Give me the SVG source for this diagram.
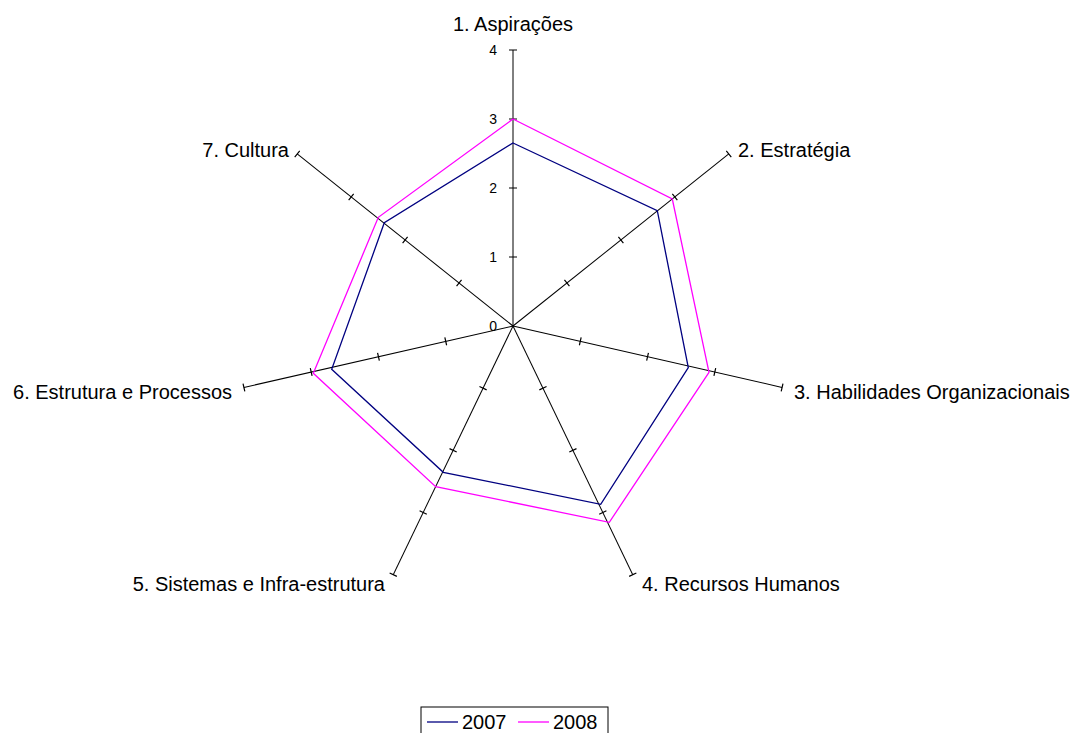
<svg xmlns="http://www.w3.org/2000/svg" width="1073" height="733" viewBox="0 0 1073 733">
  <style>
    .axis { stroke: #000; stroke-width: 1; fill: none; }
    .tick { stroke: #000; stroke-width: 1.2; }
    .lbl { font-family: "Liberation Sans", Arial, sans-serif; font-size: 20px; fill: #000; }
    .num { font-family: "Liberation Sans", Arial, sans-serif; font-size: 14px; fill: #000; text-anchor: end; }
    .s2007 { stroke: #000080; stroke-width: 1.3; fill: none; }
    .s2008 { stroke: #ff00ff; stroke-width: 1.3; fill: none; }
  </style>
  <rect width="1073" height="733" fill="#fff"/>

  <!-- spokes with unit ticks (centre 513,326; 69 px per unit) -->
  <g id="connectors">
    <g id="spoke1">
      <line class="axis" x1="513" y1="326" x2="513" y2="50"/>
      <path class="tick" d="M509 257H517M509 188H517M509 119H517M509 50H517"/>
    </g>
    <g id="spoke2" transform="rotate(51.4286 513 326)">
      <line class="axis" x1="513" y1="326" x2="513" y2="50"/>
      <path class="tick" d="M509 257H517M509 188H517M509 119H517M509 50H517"/>
    </g>
    <g id="spoke3" transform="rotate(102.857 513 326)">
      <line class="axis" x1="513" y1="326" x2="513" y2="50"/>
      <path class="tick" d="M509 257H517M509 188H517M509 119H517M509 50H517"/>
    </g>
    <g id="spoke4" transform="rotate(154.286 513 326)">
      <line class="axis" x1="513" y1="326" x2="513" y2="50"/>
      <path class="tick" d="M509 257H517M509 188H517M509 119H517M509 50H517"/>
    </g>
    <g id="spoke5" transform="rotate(205.714 513 326)">
      <line class="axis" x1="513" y1="326" x2="513" y2="50"/>
      <path class="tick" d="M509 257H517M509 188H517M509 119H517M509 50H517"/>
    </g>
    <g id="spoke6" transform="rotate(257.143 513 326)">
      <line class="axis" x1="513" y1="326" x2="513" y2="50"/>
      <path class="tick" d="M509 257H517M509 188H517M509 119H517M509 50H517"/>
    </g>
    <g id="spoke7" transform="rotate(308.571 513 326)">
      <line class="axis" x1="513" y1="326" x2="513" y2="50"/>
      <path class="tick" d="M509 257H517M509 188H517M509 119H517M509 50H517"/>
    </g>
  </g>

  <!-- scale values -->
  <g id="scale">
    <text class="num" x="497" y="331">0</text>
    <text class="num" x="497" y="262">1</text>
    <text class="num" x="497" y="193">2</text>
    <text class="num" x="497" y="124">3</text>
    <text class="num" x="497" y="55">4</text>
  </g>

  <!-- data series -->
  <g id="series-2007">
    <polygon class="s2007" points="513,143 657.3,210.7 688.3,367.7 600.7,504.3 443.3,472.3 331.7,369.3 384.3,222.8"/>
  </g>
  <g id="series-2008">
    <polygon class="s2008" points="513,119 672.3,199 709,372.3 609.3,522.3 435.7,486.7 313.3,373.3 378.3,217.3"/>
  </g>

  <!-- category labels -->
  <g id="label1"><text class="lbl" x="513" y="31" text-anchor="middle">1. Aspirações</text></g>
  <g id="label2"><text class="lbl" x="738" y="157">2. Estratégia</text></g>
  <g id="label3"><text class="lbl" x="794" y="399">3. Habilidades Organizacionais</text></g>
  <g id="label4"><text class="lbl" x="642" y="591">4. Recursos Humanos</text></g>
  <g id="label5"><text class="lbl" x="385" y="591" text-anchor="end">5. Sistemas e Infra-estrutura</text></g>
  <g id="label6"><text class="lbl" x="232" y="399" text-anchor="end">6. Estrutura e Processos</text></g>
  <g id="label7"><text class="lbl" x="289" y="157" text-anchor="end">7. Cultura</text></g>

  <!-- legend -->
  <g id="legend">
    <rect x="421" y="707" width="187" height="30" fill="#fff" stroke="#000" stroke-width="1"/>
    <line x1="427" y1="722" x2="458" y2="722" stroke="#000080" stroke-width="1.3"/>
    <text class="lbl" x="462" y="729">2007</text>
    <line x1="518" y1="722" x2="549" y2="722" stroke="#ff00ff" stroke-width="1.3"/>
    <text class="lbl" x="553" y="729">2008</text>
  </g>
</svg>
